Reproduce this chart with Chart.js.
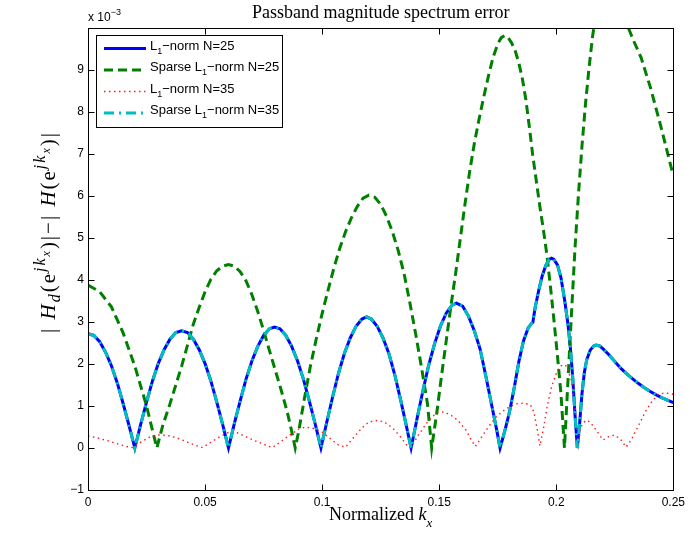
<!DOCTYPE html>
<html>
<head>
<meta charset="utf-8">
<title>Passband magnitude spectrum error</title>
<script src="https://cdn.jsdelivr.net/npm/chart.js@4/dist/chart.umd.min.js"></script>
<style>
  html, body { margin: 0; padding: 0; background: #fff; }
  #wrap { width: 690px; height: 535px; }
</style>
</head>
<body>
<div id="wrap"><canvas id="grafico" width="690" height="535"></canvas></div>
<script>
// values, y in units of 10^-3

// L1-norm N=25
var kxL1 = [0,0.0025,0.005,0.0075,0.01,0.0125,0.015,0.0175,0.02,
  0.0225,0.025,0.0275,0.03,0.0325,0.035,0.0375,0.04,0.0425,0.045,0.0475,0.05,0.0525,0.055,0.0575,0.06,
  0.0625,0.065,0.0675,0.07,0.0725,0.075,0.0775,0.0797,0.082,0.0845,0.087,0.0895,0.092,0.0945,0.097,0.0995,
  0.102,0.1045,0.107,0.1095,0.112,0.1145,0.117,0.119,0.121,0.1235,0.126,0.1285,0.131,0.1335,0.1357,0.138,
  0.1405,0.143,0.1455,0.148,0.1505,0.153,0.1555,0.1574,0.16,0.1625,0.165,0.1675,0.17,0.1725,0.1745,0.176,
  0.178,0.18,0.182,0.184,0.186,0.188,0.1895,0.19,0.191,0.1925,0.194,0.1955,0.197,0.198,0.199,0.2005,0.202,0.2035,0.205,0.206,0.207,0.208,0.209,
  0.21,0.211,0.212,0.213,0.2145,0.216,0.217,0.2185,0.22,0.2225,0.225,0.2275,0.23,0.2325,0.235,0.2375,0.24,0.2425,0.245,0.2475,0.25];
var errL1 = [2.72,2.68,2.53,2.28,1.96,1.55,1.06,0.54,0,
  0.56,1.09,1.59,2.01,2.34,2.59,2.75,2.79,2.75,2.59,2.34,2.01,1.59,1.09,0.56,0,
  0.58,1.12,1.64,2.07,2.42,2.68,2.84,2.88,2.84,2.68,2.42,2.07,1.64,1.12,0.58,0,
  0.62,1.22,1.78,2.25,2.62,2.9,3.07,3.12,3.07,2.9,2.62,2.25,1.75,1.15,0.6,0,
  0.69,1.35,1.97,2.48,2.9,3.21,3.4,3.45,3.38,3.14,2.79,2.35,1.69,1.0,0.45,0,
  0.4,0.85,1.42,2.05,2.55,2.86,2.97,2.99,3.35,3.75,4.1,4.34,4.49,4.52,4.49,4.36,4.06,3.55,2.95,2.4,1.7,0.8,0,
  0.6,1.3,1.8,2.1,2.33,2.43,2.45,2.43,2.36,2.22,2.06,1.9,1.77,1.65,1.54,1.44,1.35,1.27,1.2,1.14,1.08];

// Sparse L1-norm N=25
var kxSp25 = [0,0.005,0.01,0.015,0.02,0.025,0.0294,
  0.032,0.035,0.0375,0.04,0.0425,0.045,0.0475,0.05,0.0525,0.055,0.0575,0.06,0.0625,0.065,0.0675,0.07,0.0725,0.075,0.0775,0.08,0.0825,0.085,0.087,0.0885,
  0.09,0.0925,0.095,0.0975,0.1,0.1025,0.105,0.1075,0.11,0.1125,0.115,0.1175,0.12,0.1225,0.125,0.1275,0.13,0.1325,0.135,0.1375,0.14,0.1425,0.145,0.1468,
  0.149,0.151,0.153,0.155,0.157,0.159,0.161,0.163,0.165,0.167,0.169,0.171,0.173,0.175,0.1765,0.178,0.1795,0.181,0.1825,0.184,0.1855,0.187,0.1885,0.19,0.1915,0.193,0.1945,0.196,0.1975,0.199,0.2005,0.202,0.2035,
  0.205,0.2065,0.208,0.2095,0.211,0.2125,0.214,0.2155,0.217,0.219,0.222,0.225,0.228,0.2306,0.233,0.2362,0.2404,0.2447,0.249,0.25];
var errSp25 = [3.88,3.72,3.36,2.74,1.95,1.0,0,
  0.55,1.05,1.5,1.95,2.45,2.95,3.35,3.72,4.02,4.22,4.33,4.37,4.33,4.2,3.98,3.65,3.25,2.8,2.32,1.85,1.38,0.88,0.4,0,
  0.4,1.2,1.95,2.6,3.2,3.75,4.28,4.75,5.15,5.48,5.75,5.95,6.02,5.97,5.8,5.52,5.15,4.7,4.15,3.45,2.7,1.9,1.05,0,
  0.85,1.72,2.55,3.38,4.15,4.98,5.8,6.58,7.25,7.82,8.35,8.85,9.3,9.62,9.77,9.82,9.77,9.64,9.45,9.17,8.8,8.3,7.65,6.95,6.35,5.75,5.2,4.6,3.85,3.05,2.2,1.3,0,
  1.6,3.2,4.75,6.05,7.2,8.2,9.05,9.8,10.35,10.85,11.1,11.0,10.6,10.03,9.7,9.3,8.55,7.65,6.7,6.5];

// L1-norm N=35
var kxL35 = [0,0.004,0.008,0.012,0.016,0.019,0.022,0.026,0.03,0.034,0.038,0.042,0.046,0.049,0.052,0.056,0.06,0.063,0.067,0.071,
  0.075,0.0787,0.082,0.086,0.09,0.093,0.097,0.1,0.104,0.107,0.11,0.113,0.117,0.12,0.124,0.127,0.13,0.133,0.136,0.138,
  0.141,0.1455,0.149,0.152,0.155,0.158,0.1615,0.164,0.1655,0.168,0.171,0.174,0.177,0.18,0.183,0.186,0.189,0.1905,0.192,0.193,
  0.1945,0.196,0.198,0.2005,0.2025,0.2045,0.2065,0.208,0.2094,0.2105,0.2125,0.2145,0.217,0.22,0.222,0.225,0.2277,0.2298,0.232,0.235,
  0.238,0.241,0.2435,0.246,0.248,0.25];
var errL35 = [0.29,0.24,0.18,0.11,0.04,0.01,0.12,0.25,0.31,0.3,0.24,0.15,0.06,0.01,0.12,0.26,0.37,0.38,0.28,0.18,
  0.09,0.01,0.14,0.3,0.45,0.5,0.46,0.38,0.2,0.07,0.02,0.22,0.48,0.62,0.66,0.6,0.48,0.3,0.08,0.01,
  0.3,0.66,0.84,0.86,0.78,0.66,0.42,0.16,0.04,0.25,0.5,0.72,0.87,0.98,1.05,1.07,1.03,0.85,0.4,0.05,
  0.45,0.95,1.46,1.85,1.98,1.95,1.6,0.98,0.08,0.5,0.66,0.62,0.43,0.19,0.26,0.31,0.19,0.02,0.19,0.52,
  0.86,1.12,1.27,1.31,1.3,1.28];

// Sparse L1-norm N=35 lies exactly on top of the N=25 L1 curve
var kxSp35 = kxL1;
var errSp35 = errL1;

var xTicks = [0, 0.05, 0.1, 0.15, 0.2, 0.25];
var yTicks = [-1, 0, 1, 2, 3, 4, 5, 6, 7, 8, 9];

var SANS = "'Liberation Sans', Arial, Helvetica, sans-serif";
var SERIF = "'Liberation Serif', 'Times New Roman', Times, serif";

function puntos(xs, ys) {
  return xs.map(function (x, i) { return {x: x, y: ys[i]}; });
}

// estilo de cada curva (MATLAB: b-, g--, r:, c-.)
var series = [
  {label: 'L1-norm N=25', xs: kxL1, ys: errL1, color: '#0000ff', width: 3, dash: [], order: 4},
  {label: 'Sparse L1-norm N=25', xs: kxSp25, ys: errSp25, color: '#008000', width: 3, dash: [9, 5], order: 3},
  {label: 'L1-norm N=35', xs: kxL35, ys: errL35, color: '#ff1a1a', width: 1.4, dash: [1.5, 3.5], order: 2},
  {label: 'Sparse L1-norm N=35', xs: kxSp35, ys: errSp35, color: '#00bfbf', width: 3, dash: [10, 5, 2, 5], order: 1}
];

// rich text: list of pieces {t, font, dy}, drawn left to right
function anchoRico(ctx, piezas) {
  var w = 0;
  piezas.forEach(function (p) { ctx.font = p.font; w += ctx.measureText(p.t).width; });
  return w;
}
function textoRico(ctx, piezas, x, y) {
  piezas.forEach(function (p) {
    ctx.font = p.font;
    ctx.fillText(p.t, x, y + (p.dy || 0));
    x += ctx.measureText(p.t).width;
  });
}

var ejesMatlab = {
  id: 'ejesMatlab',
  afterDatasetsDraw: function (chart) {
    var ctx = chart.ctx, a = chart.chartArea;
    var sx = chart.scales.x, sy = chart.scales.y;
    var L = Math.round(a.left) + 0.5, R = Math.round(a.right) + 0.5;
    var T = Math.round(a.top) + 0.5, B = Math.round(a.bottom) + 0.5;
    ctx.save();
    ctx.setLineDash([]);
    ctx.strokeStyle = '#000';
    ctx.lineWidth = 1;
    ctx.strokeRect(L, T, R - L, B - T);

    // inward ticks on all four sides
    ctx.beginPath();
    xTicks.forEach(function (v) {
      var px = Math.round(sx.getPixelForValue(v)) + 0.5;
      ctx.moveTo(px, B); ctx.lineTo(px, B - 6);
      ctx.moveTo(px, T); ctx.lineTo(px, T + 6);
    });
    yTicks.forEach(function (v) {
      var py = Math.round(sy.getPixelForValue(v)) + 0.5;
      ctx.moveTo(L, py); ctx.lineTo(L + 6, py);
      ctx.moveTo(R, py); ctx.lineTo(R - 6, py);
    });
    ctx.stroke();

    ctx.fillStyle = '#000';
    ctx.textBaseline = 'alphabetic';
    ctx.textAlign = 'left';

    // title
    ctx.font = '18px ' + SERIF;
    ctx.textAlign = 'center';
    ctx.fillText('Passband magnitude spectrum error', (a.left + a.right) / 2, 18);
    ctx.textAlign = 'left';

    // exponent label
    textoRico(ctx, [
      {t: 'x 10', font: '12px ' + SANS},
      {t: '\u22123', font: '9px ' + SANS, dy: -6}
    ], a.left, 21);

    // x label
    var etqX = [
      {t: 'Normalized ', font: '18px ' + SERIF},
      {t: 'k', font: 'italic 18px ' + SERIF},
      {t: 'x', font: 'italic 13px ' + SERIF, dy: 7}
    ];
    textoRico(ctx, etqX, (a.left + a.right) / 2 - anchoRico(ctx, etqX) / 2, 520);

    // y label, rotated
    var n = '21px ' + SERIF, it = 'italic 21px ' + SERIF;
    var sup = 'italic 16px ' + SERIF, sub2 = 'italic 12px ' + SERIF;
    var etqY = [
      {t: '| ', font: n},
      {t: 'H', font: it},
      {t: 'd', font: 'italic 16px ' + SERIF, dy: 5},
      {t: '(e', font: n},
      {t: 'jk', font: sup, dy: -10},
      {t: 'x', font: sub2, dy: -5},
      {t: ')|\u2212| ', font: n},
      {t: 'H', font: it},
      {t: '(e', font: n},
      {t: 'jk', font: sup, dy: -10},
      {t: 'x', font: sub2, dy: -5},
      {t: ')|', font: n}
    ];
    ctx.save();
    ctx.translate(55, 232);
    ctx.rotate(-Math.PI / 2);
    ctx.letterSpacing = '2px';
    textoRico(ctx, etqY, -anchoRico(ctx, etqY) / 2, 0);
    ctx.letterSpacing = '0px';
    ctx.restore();

    // legend box
    ctx.fillStyle = '#fff';
    ctx.fillRect(96, 35, 186, 92);
    ctx.strokeStyle = '#000';
    ctx.strokeRect(96.5, 35.5, 186, 92);
    var filas = [48.5, 70, 91.5, 113];
    series.forEach(function (s, i) {
      var y = filas[i];
      ctx.save();
      ctx.strokeStyle = s.color;
      ctx.lineWidth = s.width;
      ctx.setLineDash(s.dash);
      ctx.beginPath();
      ctx.moveTo(104, y);
      ctx.lineTo(146, y);
      ctx.stroke();
      ctx.restore();
      var pre = s.label.indexOf('Sparse') === 0 ? 'Sparse L' : 'L';
      var post = s.label.replace(/^.*L1-norm/, '\u2212norm');
      ctx.fillStyle = '#000';
      textoRico(ctx, [
        {t: pre, font: '13px ' + SANS},
        {t: '1', font: '9px ' + SANS, dy: 4},
        {t: post, font: '13px ' + SANS}
      ], 150, y + 1);
    });
    ctx.restore();
  }
};

var datasets = series.map(function (s) {
  return {
    label: s.label,
    data: puntos(s.xs, s.ys),
    borderColor: s.color,
    borderWidth: s.width,
    borderDash: s.dash,
    pointRadius: 0,
    tension: 0,
    fill: false,
    clip: 0,
    order: s.order
  };
});

new Chart(document.getElementById('grafico'), {
  type: 'line',
  data: {datasets: datasets},
  options: {
    responsive: false,
    animation: false,
    devicePixelRatio: 1,
    layout: {padding: {top: 28, right: 15, left: 0, bottom: 0}},
    plugins: {legend: {display: false}, tooltip: {enabled: false}, title: {display: false}},
    scales: {
      x: {
        type: 'linear', min: 0, max: 0.25,
        afterFit: function (s) { s.height = 45; },
        afterBuildTicks: function (s) { s.ticks = xTicks.map(function (v) { return {value: v}; }); },
        grid: {display: false, drawTicks: false},
        border: {display: false},
        ticks: {
          color: '#000', padding: 5, maxRotation: 0,
          font: {family: SANS, size: 12},
          callback: function (v) { return String(+v.toFixed(2)); }
        }
      },
      y: {
        type: 'linear', min: -1, max: 10,
        afterFit: function (s) { s.width = 88; },
        afterBuildTicks: function (s) { s.ticks = yTicks.map(function (v) { return {value: v}; }); },
        grid: {display: false, drawTicks: false},
        border: {display: false},
        ticks: {
          color: '#000', padding: 4,
          font: {family: SANS, size: 12},
          callback: function (v) { return v < 0 ? '\u2212' + Math.abs(v) : String(v); }
        }
      }
    }
  },
  plugins: [ejesMatlab]
});
</script>
</body>
</html>
